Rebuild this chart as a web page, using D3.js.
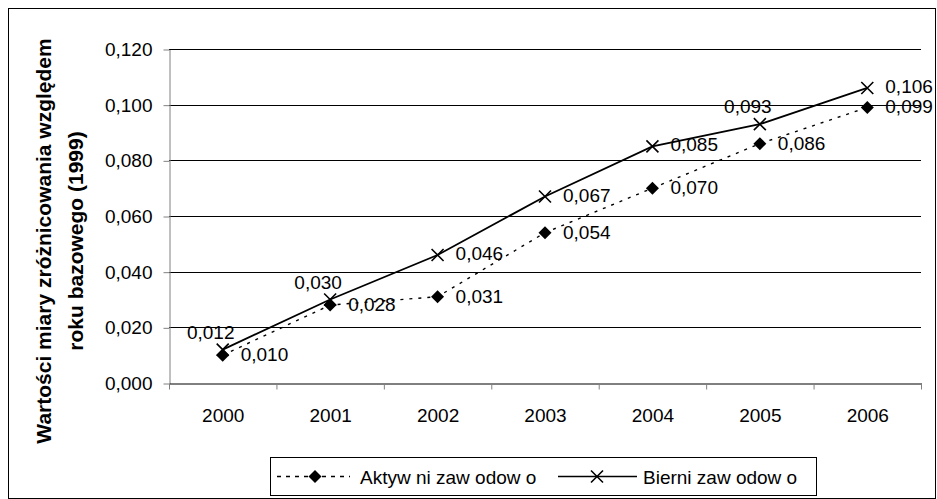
<!DOCTYPE html>
<html>
<head>
<meta charset="utf-8">
<script src="https://cdn.jsdelivr.net/npm/d3@7"></script>
<style>
  body { margin: 0; background: #fff; }
  svg text { font-family: "Liberation Sans", Arial, sans-serif; fill: #000; }
</style>
</head>
<body>
<div id="chart"></div>
<script>
// Data
const years = ["2000", "2001", "2002", "2003", "2004", "2005", "2006"];
const aktywni = [0.010, 0.028, 0.031, 0.054, 0.070, 0.086, 0.099];
const bierni = [0.012, 0.030, 0.046, 0.067, 0.085, 0.093, 0.106];
const yTicks = [0, 0.02, 0.04, 0.06, 0.08, 0.1, 0.12];
const seriesNames = ["Aktyw ni zaw odow o", "Bierni zaw odow o"];
// where each "bierni" label sits relative to its point
const bierniLabelPos = ["above", "above", "right", "right", "right", "above", "right"];

const width = 937;
const height = 499;
const marginTop = 49;
const marginRight = 16;
const marginBottom = 116;
const marginLeft = 169;
const fontSize = 19;

const fmt = (v) => d3.format(".3f")(v).replace(".", ",");

const x = d3.scaleBand(years, [marginLeft, width - marginRight]);
const y = d3.scaleLinear([0, 0.12], [height - marginBottom, marginTop]);
const cx = (i) => x(years[i]) + x.bandwidth() / 2;

const svg = d3.create("svg").attr("width", width).attr("height", height);

// Outer chart border
svg.append("rect")
  .attr("x", 8.5).attr("y", 8.5)
  .attr("width", width - 10).attr("height", height - 9)
  .attr("fill", "none").attr("stroke", "#000");

// Gridlines
svg.append("g")
  .selectAll("line")
  .data(yTicks.slice(1))
  .join("line")
  .attr("x1", marginLeft).attr("x2", width - marginRight)
  .attr("y1", (d) => Math.round(y(d)) + 0.5).attr("y2", (d) => Math.round(y(d)) + 0.5)
  .attr("stroke", "#000");

// Y axis
svg.append("g")
  .attr("transform", `translate(${marginLeft + 0.5},0.5)`)
  .call(d3.axisLeft(y).tickValues(yTicks).tickFormat(fmt).tickSize(6).tickPadding(11).tickSizeOuter(0))
  .call((g) => g.select(".domain").attr("stroke", "#808080"))
  .call((g) => g.selectAll(".tick line").attr("stroke", "#808080"))
  .call((g) => g.selectAll("text").attr("font-size", fontSize).attr("fill", "#000"));

// X axis
svg.append("g")
  .attr("transform", `translate(0.5,${height - marginBottom + 0.5})`)
  .call(d3.axisBottom(x).tickSize(0).tickPadding(25).tickSizeOuter(0))
  .call((g) => g.select(".domain").attr("stroke", "#000"))
  .call((g) => g.selectAll("text").attr("font-size", fontSize).attr("fill", "#000"))
  .call((g) =>
    g.selectAll(".boundary")
      .data(d3.range(years.length + 1))
      .join("line")
      .attr("x1", (i) => marginLeft + i * x.step())
      .attr("x2", (i) => marginLeft + i * x.step())
      .attr("y1", 0).attr("y2", 6)
      .attr("stroke", "#808080"),
  );

// Y axis title
svg.append("text")
  .attr("transform", `translate(51,241) rotate(-90)`)
  .attr("text-anchor", "middle")
  .attr("font-size", 21)
  .attr("font-weight", "bold")
  .call((t) => t.append("tspan").attr("x", 0).attr("dy", 0).text("Wartości miary zróżnicowania względem"))
  .call((t) => t.append("tspan").attr("x", 0).attr("dy", 32).text("roku bazowego (1999)"));

const line = d3.line()
  .x((d, i) => cx(i))
  .y((d) => y(d));

// Aktywni: dotted line with diamonds
svg.append("path")
  .attr("d", line(aktywni))
  .attr("fill", "none").attr("stroke", "#000")
  .attr("stroke-width", 1.4).attr("stroke-dasharray", "3,6");

// Bierni: solid line with crosses
svg.append("path")
  .attr("d", line(bierni))
  .attr("fill", "none").attr("stroke", "#000")
  .attr("stroke-width", 1.8);

const diamond = "M0,-6.5L6.5,0L0,6.5L-6.5,0Z";
const cross = "M-6,-6L6,6M-6,6L6,-6";

svg.append("g")
  .selectAll("path")
  .data(aktywni)
  .join("path")
  .attr("transform", (d, i) => `translate(${cx(i)},${y(d)})`)
  .attr("d", diamond)
  .attr("fill", "#000");

svg.append("g")
  .selectAll("path")
  .data(bierni)
  .join("path")
  .attr("transform", (d, i) => `translate(${cx(i)},${y(d)})`)
  .attr("d", cross)
  .attr("fill", "none").attr("stroke", "#000").attr("stroke-width", 1.6);

// Data labels
svg.append("g")
  .selectAll("text")
  .data(aktywni)
  .join("text")
  .attr("x", (d, i) => cx(i) + 18)
  .attr("y", (d) => y(d) + 6)
  .attr("font-size", fontSize)
  .text(fmt);

svg.append("g")
  .selectAll("text")
  .data(bierni)
  .join("text")
  .attr("x", (d, i) => bierniLabelPos[i] === "above" ? cx(i) - 12 : cx(i) + 18)
  .attr("y", (d, i) => bierniLabelPos[i] === "above" ? y(d) - 11 : y(d) + 5)
  .attr("text-anchor", (d, i) => bierniLabelPos[i] === "above" ? "middle" : "start")
  .attr("font-size", fontSize)
  .text(fmt);

// Legend
const legend = svg.append("g");
legend.append("rect")
  .attr("x", 270.5).attr("y", 457.5)
  .attr("width", 546).attr("height", 38)
  .attr("fill", "#fff").attr("stroke", "#000");

const ly = 476.5;
legend.append("line")
  .attr("x1", 277).attr("x2", 350).attr("y1", ly).attr("y2", ly)
  .attr("stroke", "#000").attr("stroke-width", 1.4).attr("stroke-dasharray", "4,5");
legend.append("path")
  .attr("transform", `translate(315,${ly})`)
  .attr("d", diamond).attr("fill", "#000");
legend.append("text")
  .attr("x", 360).attr("y", ly + 7)
  .attr("font-size", fontSize)
  .text(seriesNames[0]);

legend.append("line")
  .attr("x1", 558).attr("x2", 637).attr("y1", ly).attr("y2", ly)
  .attr("stroke", "#000").attr("stroke-width", 1.6);
legend.append("path")
  .attr("transform", `translate(597,${ly})`)
  .attr("d", cross).attr("fill", "none").attr("stroke", "#000").attr("stroke-width", 1.6);
legend.append("text")
  .attr("x", 643).attr("y", ly + 7)
  .attr("font-size", fontSize)
  .text(seriesNames[1]);

d3.select("#chart").node().appendChild(svg.node());
</script>
</body>
</html>
